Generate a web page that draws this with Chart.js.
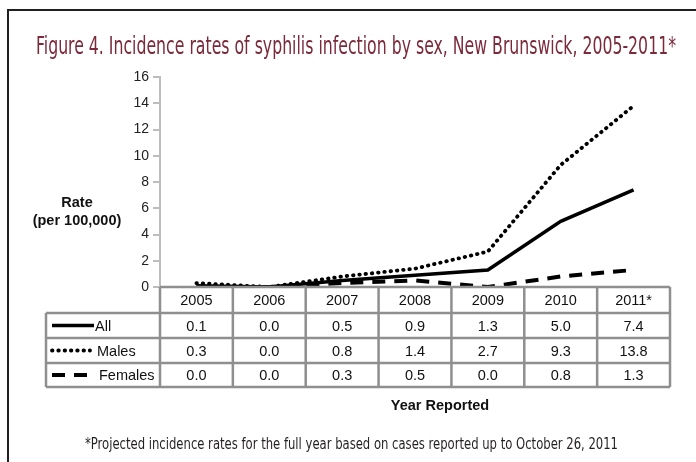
<!DOCTYPE html>
<html>
<head>
<meta charset="utf-8">
<script src="https://cdn.jsdelivr.net/npm/chart.js@4"></script>
<style>
  html, body { margin: 0; padding: 0; background: #fff; }
  #wrap { position: relative; width: 696px; height: 462px; overflow: hidden; background: #fff; }
  #frame { position: absolute; left: 7px; top: 9px; width: 900px; height: 700px;
           border-top: 2.5px solid #231f20; border-left: 2.5px solid #231f20; box-sizing: border-box; }
  canvas { position: absolute; left: 0; top: 0; }
  .txt { position: absolute; white-space: nowrap; line-height: 1; transform-origin: 0 0; }
  #title { left: 36px; top: 33px; font-family: "Liberation Sans Narrow", "DejaVu Sans Condensed", "DejaVu Sans", sans-serif;
           font-stretch: condensed; font-size: 25px; color: #7b2a3b; }
  #foot { left: 85px; top: 436px; font-family: "Liberation Sans Narrow", "DejaVu Sans Condensed", "DejaVu Sans", sans-serif;
          font-stretch: condensed; font-size: 16px; color: #231f20; }
  #ylab { left: 17px; top: 193px; width: 120px; text-align: center; line-height: 18px;
          font-family: "Liberation Sans", Arial, sans-serif; font-weight: bold; font-size: 14.5px; color: #111; }
  #xlab { left: 340px; top: 398px; width: 200px; text-align: center;
          font-family: "Liberation Sans", Arial, sans-serif; font-weight: bold; font-size: 14.5px; color: #111; }
</style>
</head>
<body>
<div id="wrap">
  <div id="frame"></div>
  <canvas id="c" width="696" height="462"></canvas>
  <div id="title" class="txt">Figure 4. Incidence rates of syphilis infection by sex, New Brunswick, 2005-2011*</div>
  <div id="ylab" class="txt">Rate<br>(per 100,000)</div>
  <div id="xlab" class="txt">Year Reported</div>
  <div id="foot" class="txt">*Projected incidence rates for the full year based on cases reported up to October 26, 2011</div>
</div>
<script>
// ---- data ----
const years = ['2005', '2006', '2007', '2008', '2009', '2010', '2011*'];
const allRates = [0.1, 0.0, 0.5, 0.9, 1.3, 5.0, 7.4];
const maleRates = [0.3, 0.0, 0.8, 1.4, 2.7, 9.3, 13.8];
const femaleRates = [0.0, 0.0, 0.3, 0.5, 0.0, 0.8, 1.3];
const seriesNames = ['All', 'Males', 'Females'];

// ---- styles ----
const GRID = '#8f8f8f';
const AXIS = '#bdbdbd';
const FONT = '"Liberation Sans", Arial, sans-serif';

const styles = [
  { borderColor: '#000', borderWidth: 3.5, borderDash: [], borderCapStyle: 'butt' },
  { borderColor: '#000', borderWidth: 3.8, borderDash: [0.5, 5.8], borderCapStyle: 'round' },
  { borderColor: '#000', borderWidth: 4, borderDash: [13, 9], borderCapStyle: 'butt' }
];
const seriesData = [allRates, maleRates, femaleRates];

const tablePlugin = {
  id: 'table',
  afterDraw(chart) {
    const ctx = chart.ctx;
    const xs = chart.scales.x;
    const ca = chart.chartArea;
    const n = years.length;
    const band = xs.getPixelForValue(1) - xs.getPixelForValue(0);
    const bounds = [];
    for (let i = 0; i <= n; i++) bounds.push(xs.getPixelForValue(0) - band / 2 + i * band);
    const top = ca.bottom;
    const rows = [top, top + 26, top + 51, top + 76, top + 100];
    const legLeft = 46;
    ctx.save();
    ctx.strokeStyle = GRID;
    ctx.lineWidth = 2.5;
    ctx.beginPath();
    ctx.moveTo(bounds[0], top); ctx.lineTo(bounds[n], top);
    for (let i = 0; i <= n; i++) {
      ctx.moveTo(bounds[i], top); ctx.lineTo(bounds[i], rows[4]);
    }
    ctx.moveTo(legLeft, rows[1]); ctx.lineTo(legLeft, rows[4]);
    for (let r = 1; r <= 4; r++) {
      ctx.moveTo(legLeft, rows[r]); ctx.lineTo(bounds[n], rows[r]);
    }
    ctx.stroke();
    ctx.fillStyle = '#111';
    ctx.font = '14.5px ' + FONT;
    ctx.textAlign = 'center';
    ctx.textBaseline = 'middle';
    for (let i = 0; i < n; i++) {
      ctx.fillText(years[i], (bounds[i] + bounds[i + 1]) / 2, (rows[0] + rows[1]) / 2 + 1);
    }
    for (let s = 0; s < 3; s++) {
      const cy = (rows[s + 1] + rows[s + 2]) / 2 + 1;
      for (let i = 0; i < n; i++) {
        ctx.fillText(seriesData[s][i].toFixed(1), (bounds[i] + bounds[i + 1]) / 2, cy);
      }
      const st = styles[s];
      ctx.save();
      ctx.strokeStyle = st.borderColor;
      ctx.lineWidth = st.borderWidth;
      ctx.setLineDash(st.borderDash);
      ctx.lineCap = st.borderCapStyle;
      ctx.beginPath();
      const x0 = 52, x1 = s === 0 ? 94 : 90;
      ctx.moveTo(x0, cy - 1); ctx.lineTo(x1, cy - 1);
      ctx.stroke();
      ctx.restore();
      ctx.textAlign = 'left';
      ctx.fillText(seriesNames[s], s === 0 ? 95 : (s === 1 ? 97 : 99), cy);
      ctx.textAlign = 'center';
    }
    ctx.restore();
  }
};

new Chart(document.getElementById('c'), {
  type: 'line',
  data: {
    labels: years,
    datasets: seriesNames.map((name, s) => Object.assign({
      label: name,
      data: seriesData[s],
      fill: false,
      pointRadius: 0,
      pointHoverRadius: 0,
      tension: 0
    }, styles[s]))
  },
  options: {
    responsive: false,
    animation: false,
    events: [],
    layout: { padding: { left: 120, right: 26, top: 77, bottom: 175 } },
    plugins: { legend: { display: false }, title: { display: false }, tooltip: { enabled: false } },
    scales: {
      x: { display: false, offset: true },
      y: {
        min: 0, max: 16,
        ticks: { stepSize: 2, color: '#222', font: { family: FONT, size: 14 }, padding: 4 },
        grid: { drawOnChartArea: false, drawTicks: true, tickLength: 7, color: AXIS, lineWidth: 2 },
        border: { display: true, color: AXIS, width: 2 },
        afterFit(scale) { scale.width = 40; }
      }
    }
  },
  plugins: [tablePlugin]
});

function fit(id, w) {
  const el = document.getElementById(id);
  el.style.transform = '';
  const r = el.getBoundingClientRect().width;
  el.style.transform = 'scaleX(' + (w / r) + ')';
}
function fitAll() { fit('title', 640); fit('foot', 533); }
fitAll();
if (document.fonts && document.fonts.ready) document.fonts.ready.then(fitAll);
</script>
</body>
</html>
